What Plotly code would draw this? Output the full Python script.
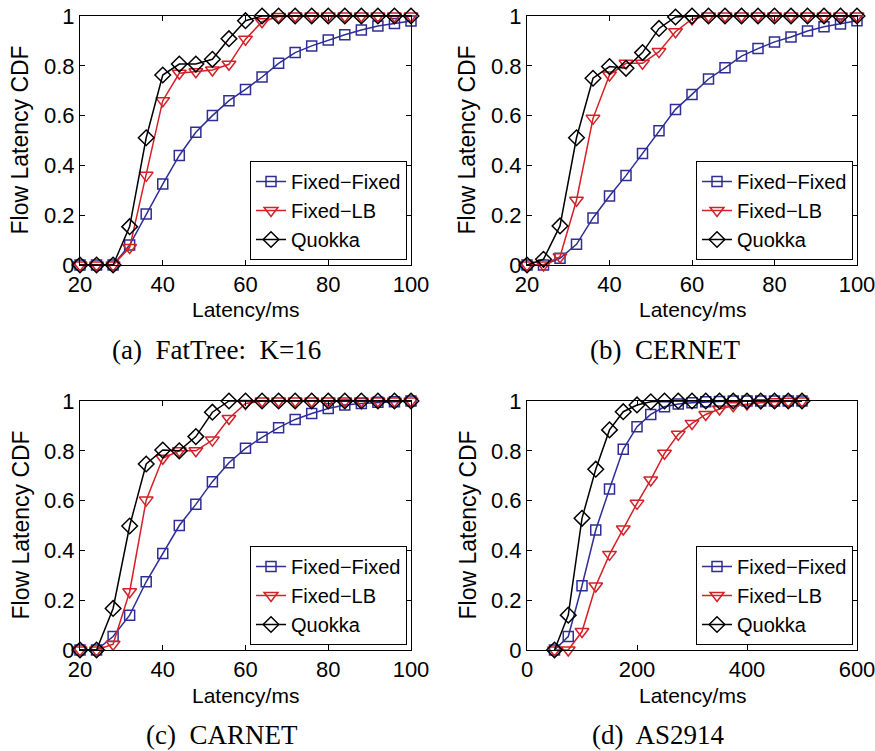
import plotly.graph_objects as go

# ---------------- data ----------------
x_small = [20, 24, 28, 32, 36, 40, 44, 48, 52, 56, 60, 64, 68, 72, 76, 80, 84, 88, 92, 96, 100]
x_as = [50, 75, 100, 125, 150, 175, 200, 225, 250, 275, 300, 325, 350, 375, 400, 425, 450, 475, 500]

a_ff = [0, 0, 0, 0.08, 0.205, 0.325, 0.44, 0.533, 0.60, 0.66, 0.705, 0.755, 0.81, 0.853, 0.88, 0.904, 0.925, 0.944, 0.96, 0.97, 0.98]
a_lb = [0, 0, 0, 0.07, 0.36, 0.66, 0.77, 0.776, 0.783, 0.806, 0.907, 0.977, 0.998, 1, 1, 1, 1, 1, 1, 1, 1]
a_qk = [0, 0, 0, 0.154, 0.511, 0.763, 0.807, 0.807, 0.826, 0.909, 0.981, 1, 1, 1, 1, 1, 1, 1, 1, 1, 1]

b_ff = [0, 0, 0.027, 0.083, 0.189, 0.277, 0.359, 0.448, 0.539, 0.625, 0.685, 0.747, 0.792, 0.839, 0.869, 0.896, 0.916, 0.94, 0.957, 0.968, 0.981]
b_lb = [0, 0, 0.033, 0.26, 0.589, 0.763, 0.81, 0.81, 0.857, 0.937, 0.988, 1, 1, 1, 1, 1, 1, 1, 1, 1, 1]
b_qk = [0, 0.023, 0.157, 0.511, 0.75, 0.797, 0.79, 0.853, 0.95, 0.996, 1, 1, 1, 1, 1, 1, 1, 1, 1, 1, 1]

c_ff = [0, 0, 0.054, 0.14, 0.274, 0.388, 0.5, 0.585, 0.676, 0.752, 0.81, 0.854, 0.893, 0.926, 0.95, 0.97, 0.984, 0.99, 0.995, 0.997, 1]
c_lb = [0, 0, 0.023, 0.234, 0.602, 0.77, 0.8, 0.8, 0.843, 0.93, 0.99, 1, 1, 1, 1, 1, 1, 1, 1, 1, 1]
c_qk = [0, 0, 0.167, 0.498, 0.747, 0.803, 0.8, 0.857, 0.955, 1, 1, 1, 1, 1, 1, 1, 1, 1, 1, 1, 1]

d_ff = [0, 0.054, 0.258, 0.482, 0.647, 0.806, 0.897, 0.946, 0.977, 0.988, 0.993, 0.997, 0.998, 1, 1, 1, 1, 1, 1]
d_lb = [0, 0, 0.074, 0.257, 0.384, 0.486, 0.589, 0.683, 0.79, 0.866, 0.91, 0.946, 0.968, 0.981, 0.988, 0.993, 0.997, 0.999, 1]
d_qk = [0, 0.14, 0.529, 0.726, 0.884, 0.957, 0.984, 0.997, 1, 1, 1, 1, 1, 1, 1, 1, 1, 1, 1]

series_names = ["Fixed\u2212Fixed", "Fixed\u2212LB", "Quokka"]
captions = ["(a)\u00a0 FatTree:\u00a0 K=16", "(b)\u00a0 CERNET", "(c)\u00a0 CARNET", "(d)\u00a0 AS2914"]
y_ticks = [0, 0.2, 0.4, 0.6, 0.8, 1]
y_ticklabels = ["0", "0.2", "0.4", "0.6", "0.8", "1"]
x_ticks_small = [20, 40, 60, 80, 100]
x_ticks_as = [0, 200, 400, 600]

panels = [
    (x_small, [a_ff, a_lb, a_qk], [20, 100], x_ticks_small),
    (x_small, [b_ff, b_lb, b_qk], [20, 100], x_ticks_small),
    (x_small, [c_ff, c_lb, c_qk], [20, 100], x_ticks_small),
    (x_as, [d_ff, d_lb, d_qk], [0, 600], x_ticks_as),
]

# ---------------- styling ----------------
W, H = 875, 751
colors = ["#2e2e96", "#d42027", "#000000"]
symbols = ["square-open", "triangle-down-open", "diamond-open"]
msizes = [10, 12, 12]
SANS = "Liberation Sans, Arial, sans-serif"
SERIF = "Liberation Serif, Times New Roman, serif"

# pixel boxes of plot areas (left, right, top, bottom)
boxes = [(80, 411, 16, 265), (527, 857, 16, 265), (80, 411, 401, 650), (527, 857, 401, 650)]
caption_x = [216, 665, 222, 658]

fig = go.Figure()
layout = dict(width=W, height=H, margin=dict(l=0, r=0, t=0, b=0, autoexpand=False),
              plot_bgcolor="white", paper_bgcolor="white", showlegend=True)

annotations = []
for i, (xs, ys_list, xr, xt) in enumerate(panels):
    n = "" if i == 0 else str(i + 1)
    l, r, t, b = boxes[i]
    xd = [l / W, r / W]
    yd = [1 - b / H, 1 - t / H]
    axcommon = dict(showline=True, linecolor="black", linewidth=1, mirror="ticks",
                    ticks="inside", ticklen=5, tickcolor="black", showgrid=False,
                    zeroline=False, automargin=False, ticklabeloverflow="allow",
                    tickfont=dict(family=SANS, size=22, color="black"))
    layout["xaxis" + n] = dict(domain=xd, range=xr, tickvals=xt, anchor="y" + n, **axcommon)
    layout["yaxis" + n] = dict(domain=yd, range=[0, 1], tickvals=y_ticks, ticktext=y_ticklabels,
                               anchor="x" + n, **axcommon)
    lg = "legend" if i == 0 else "legend" + str(i + 1)
    layout[lg] = dict(x=(r - 4) / W, y=1 - (b - 5) / H, xanchor="right", yanchor="bottom",
                      bordercolor="black", borderwidth=1, bgcolor="white",
                      font=dict(family=SANS, size=20, color="black"),
                      tracegroupgap=0, itemwidth=30)
    for k in range(3):
        fig.add_trace(go.Scatter(
            x=xs, y=ys_list[k], mode="lines+markers", name=series_names[k],
            xaxis="x" + n, yaxis="y" + n, legend=lg, cliponaxis=False,
            line=dict(color=colors[k], width=1.5),
            marker=dict(symbol=symbols[k], size=msizes[k], color=colors[k],
                        line=dict(width=1.5, color=colors[k]))))
    # axis titles
    annotations.append(dict(text="Latency/ms", xref="paper", yref="paper",
                            x=(l + r) / 2 / W, y=1 - (b + 45) / H, xanchor="center", yanchor="middle",
                            showarrow=False, font=dict(family=SANS, size=21, color="black")))
    annotations.append(dict(text="Flow Latency CDF", xref="paper", yref="paper",
                            x=(l - 60) / W, y=1 - (t + b) / 2 / H, xanchor="center", yanchor="middle",
                            textangle=-90, showarrow=False,
                            font=dict(family=SANS, size=23, color="black")))
    annotations.append(dict(text=captions[i], xref="paper", yref="paper",
                            x=caption_x[i] / W, y=1 - (b + 85) / H, xanchor="center",
                            yanchor="middle", showarrow=False,
                            font=dict(family=SERIF, size=27, color="black")))

layout["annotations"] = annotations
fig.update_layout(**layout)
fig.write_html("out.html")
